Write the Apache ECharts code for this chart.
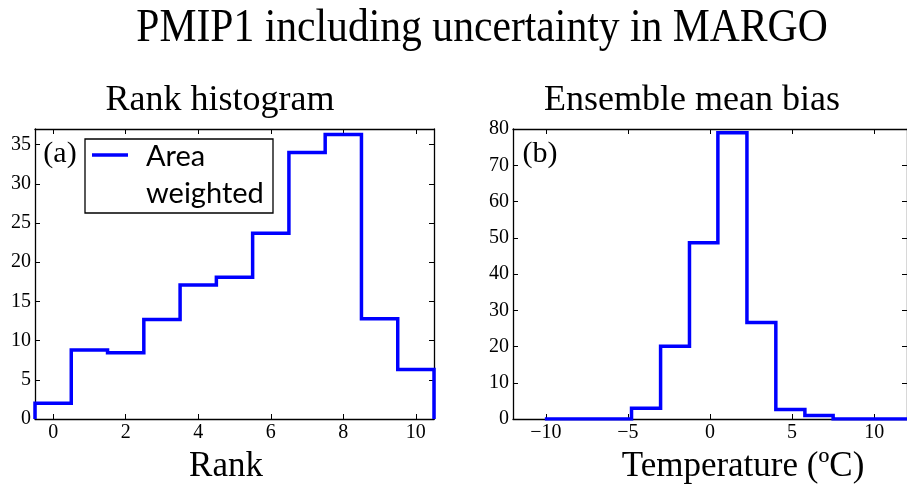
<!DOCTYPE html>
<html><head><meta charset="utf-8">
<script src="https://cdn.jsdelivr.net/npm/echarts@6/dist/echarts.min.js"></script>
<style>html,body{margin:0;padding:0;background:#fff}#c{width:907px;height:489px}</style>
</head><body><div id="c"></div>
<script>
// ---- data ----
const rankCategories = [0, 1, 2, 3, 4, 5, 6, 7, 8, 9, 10];
const rankCounts = [2.0, 8.8, 8.45, 12.7, 17.1, 18.1, 23.7, 34.0, 36.3, 12.8, 6.3];
const biasBinEdges = [-10.06, -8.3, -6.54, -4.78, -3.01, -1.25, 0.48, 2.25, 4.01, 5.78, 7.5, 9.26, 11.02, 12.78];
const biasCounts = [0, 0, 0, 3.0, 20.1, 48.6, 79.0, 26.6, 2.6, 1.0, 0, 0, 0];
const rankXTicks = [0, 2, 4, 6, 8, 10];
const rankYTicks = [0, 5, 10, 15, 20, 25, 30, 35];
const tempXTicks = [-10, -5, 0, 5, 10];
const biasYTicks = [0, 10, 20, 30, 40, 50, 60, 70, 80];
const legendLabel = 'Area\nweighted';

function stepPath(edges, counts) {
  const pts = [[edges[0], 0]];
  for (let i = 0; i < counts.length; i++) {
    pts.push([edges[i], counts[i]]);
    pts.push([edges[i + 1], counts[i]]);
  }
  pts.push([edges[edges.length - 1], 0]);
  return pts;
}
const rankEdges = rankCategories.map(r => r - 0.5).concat([rankCategories[rankCategories.length - 1] + 0.5]);

const serif = '"Liberation Serif", "Times New Roman", serif';
const lineCol = '#000';
function xAx(grid, min, max, ticks, pos, labels) {
  return {
    type: 'value', gridIndex: grid, min: min, max: max, position: pos,
    axisLine: { show: true, onZero: false, lineStyle: { color: lineCol, width: 1.3 } },
    axisTick: { show: true, inside: true, length: 5, customValues: ticks, lineStyle: { color: lineCol, width: 1 } },
    axisLabel: { show: labels, customValues: ticks, color: '#000', fontFamily: serif, fontSize: 20, margin: 4,
      formatter: v => String(v).replace('-', '\u2212') },
    splitLine: { show: false }
  };
}
function yAx(grid, min, max, ticks, pos, labels) {
  return {
    type: 'value', gridIndex: grid, min: min, max: max, position: pos,
    axisLine: { show: true, onZero: false, lineStyle: { color: lineCol, width: 1.3 } },
    axisTick: { show: true, inside: true, length: 5, customValues: ticks, lineStyle: { color: lineCol, width: 1 } },
    axisLabel: { show: labels, customValues: ticks, color: '#000', fontFamily: serif, fontSize: 20, margin: 4 },
    splitLine: { show: false }
  };
}

const chart = echarts.init(document.getElementById('c'), null, { renderer: 'canvas' });
chart.setOption({
  animation: false,
  backgroundColor: '#fff',
  grid: [
    { left: 35, top: 129, width: 399, height: 290 },
    { left: 513, top: 129, width: 399, height: 290 }
  ],
  xAxis: [
    xAx(0, -0.5, 10.5, rankXTicks, 'bottom', true),
    xAx(0, -0.5, 10.5, rankXTicks, 'top', false),
    xAx(1, -12, 12, tempXTicks, 'bottom', true),
    xAx(1, -12, 12, tempXTicks, 'top', false)
  ],
  yAxis: [
    yAx(0, 0, 37, rankYTicks, 'left', true),
    yAx(0, 0, 37, rankYTicks, 'right', false),
    yAx(1, 0, 80, biasYTicks, 'left', true),
    yAx(1, 0, 80, biasYTicks, 'right', false)
  ],
  series: [
    { name: 'Area weighted', type: 'line', xAxisIndex: 0, yAxisIndex: 0, data: stepPath(rankEdges, rankCounts),
      showSymbol: false, clip: true, lineStyle: { color: '#0000ff', width: 3.5, join: 'miter' } },
    { name: 'Ensemble mean bias', type: 'line', xAxisIndex: 2, yAxisIndex: 2, data: stepPath(biasBinEdges, biasCounts),
      showSymbol: false, clip: true, lineStyle: { color: '#0000ff', width: 3.5, join: 'miter' } }
  ],
  graphic: [
    { type: 'text', x: 482, y: 29, scaleX: 0.905, style: { text: 'PMIP1 including uncertainty in MARGO', fill: '#000', font: '46px ' + serif, align: 'center', verticalAlign: 'middle' } },
    { type: 'text', x: 220, y: 101, style: { text: 'Rank histogram', fill: '#000', font: '36px ' + serif, align: 'center', verticalAlign: 'middle' } },
    { type: 'text', x: 692, y: 101, style: { text: 'Ensemble mean bias', fill: '#000', font: '36px ' + serif, align: 'center', verticalAlign: 'middle' } },
    { type: 'text', x: 226, y: 467, style: { text: 'Rank', fill: '#000', font: '35px ' + serif, align: 'center', verticalAlign: 'middle' } },
    { type: 'text', x: 743, y: 467, style: { text: 'Temperature (\u00baC)', fill: '#000', font: '35px ' + serif, align: 'center', verticalAlign: 'middle' } },
    { type: 'text', x: 60, y: 154, style: { text: '(a)', fill: '#000', font: '30px ' + serif, align: 'center', verticalAlign: 'middle' } },
    { type: 'text', x: 540, y: 154, style: { text: '(b)', fill: '#000', font: '30px ' + serif, align: 'center', verticalAlign: 'middle' } },
    { type: 'rect', shape: { x: 85, y: 139, width: 188, height: 74 }, style: { fill: '#fff', stroke: '#000', lineWidth: 1.3 }, z: 10 },
    { type: 'line', shape: { x1: 92, y1: 155, x2: 128, y2: 155 }, style: { stroke: '#0000ff', lineWidth: 3.5 }, z: 11 },
    { type: 'text', x: 146, y: 138, style: { text: legendLabel, fill: '#000', font: '29px Lato, "Open Sans", sans-serif', lineHeight: 37, align: 'left', verticalAlign: 'top' }, z: 11 }
  ]
});
</script>
</body></html>
